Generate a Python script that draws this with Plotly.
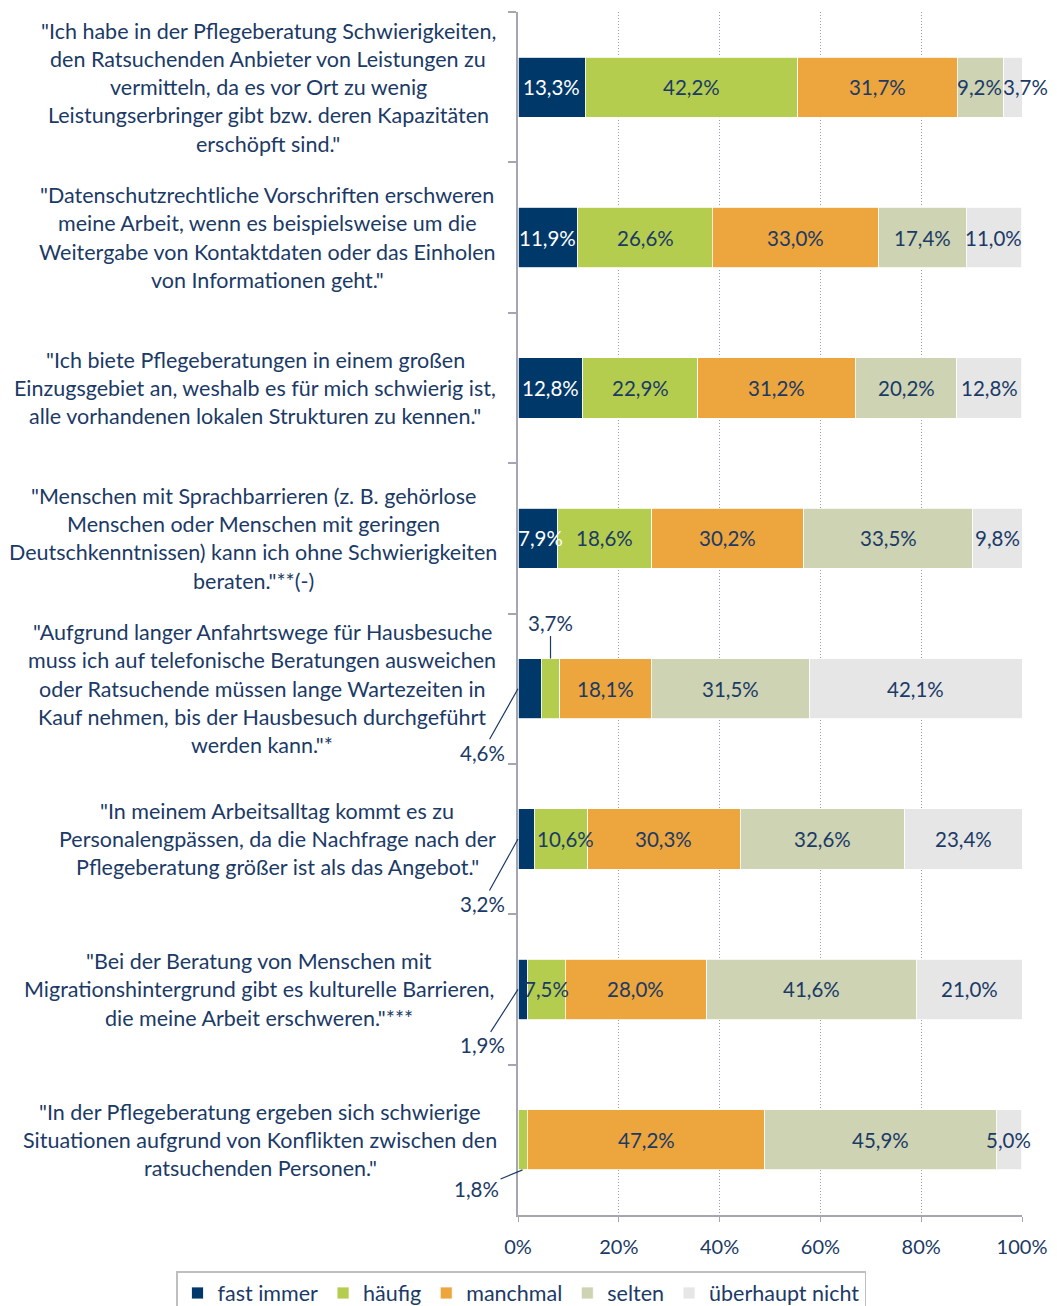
import plotly.graph_objects as go

# ---------------- data ----------------
statement_lines = [
    ['"Ich habe in der Pflegeberatung Schwierigkeiten,', 'den Ratsuchenden Anbieter von Leistungen zu',
     'vermitteln, da es vor Ort zu wenig', 'Leistungserbringer gibt bzw. deren Kapazitäten', 'erschöpft sind."'],
    ['"Datenschutzrechtliche Vorschriften erschweren', 'meine Arbeit, wenn es beispielsweise um die',
     'Weitergabe von Kontaktdaten oder das Einholen', 'von Informationen geht."'],
    ['"Ich biete Pflegeberatungen in einem großen', 'Einzugsgebiet an, weshalb es für mich schwierig ist,',
     'alle vorhandenen lokalen Strukturen zu kennen."'],
    ['"Menschen mit Sprachbarrieren (z. B. gehörlose', 'Menschen oder Menschen mit geringen',
     'Deutschkenntnissen) kann ich ohne Schwierigkeiten', 'beraten."**(-)'],
    ['"Aufgrund langer Anfahrtswege für Hausbesuche', 'muss ich auf telefonische Beratungen ausweichen',
     'oder Ratsuchende müssen lange Wartezeiten in', 'Kauf nehmen, bis der Hausbesuch durchgeführt',
     'werden kann."*'],
    ['"In meinem Arbeitsalltag kommt es zu', 'Personalengpässen, da die Nachfrage nach der',
     'Pflegeberatung größer ist als das Angebot."'],
    ['"Bei der Beratung von Menschen mit', 'Migrationshintergrund gibt es kulturelle Barrieren,',
     'die meine Arbeit erschweren."***'],
    ['"In der Pflegeberatung ergeben sich schwierige', 'Situationen aufgrund von Konflikten zwischen den',
     'ratsuchenden Personen."'],
]
categories = [" ".join(l) for l in statement_lines]

series_names = ["fast immer", "häufig", "manchmal", "selten", "überhaupt nicht"]
fast_immer = [13.3, 11.9, 12.8, 7.9, 4.6, 3.2, 1.9, 0.0]
haeufig = [42.2, 26.6, 22.9, 18.6, 3.7, 10.6, 7.5, 1.8]
manchmal = [31.7, 33.0, 31.2, 30.2, 18.1, 30.3, 28.0, 47.2]
selten = [9.2, 17.4, 20.2, 33.5, 31.5, 32.6, 41.6, 45.9]
ueberhaupt_nicht = [3.7, 11.0, 12.8, 9.8, 42.1, 23.4, 21.0, 5.0]
series_values = [fast_immer, haeufig, manchmal, selten, ueberhaupt_nicht]

x_ticks = [0, 20, 40, 60, 80, 100]
x_tick_labels = ["0%", "20%", "40%", "60%", "80%", "100%"]

# ---------------- styles / layout ----------------
colors = ["#00386A", "#B4CD4E", "#EDA53D", "#CDD3B3", "#E6E6E6"]
label_colors = ["white", "#1B3A66", "#1B3A66", "#1B3A66", "#1B3A66"]
TXT = "#1B3A66"
AX = "#A6A6B0"
FONT = "Lato"
FS_TEXT = 21.5
FS_VAL = 20.5
FS_TICK = 20
FS_LEG = 21.5

OFF = 8  # page body margin of the browser
W, H = 1057 - OFF, 1306 - OFF
ML = 518 - OFF
MT = 12 - OFF
MR = W - (1022 - OFF)
MB = H - (1215 - OFF)
PW = W - ML - MR
PH = H - MT - MB

# centre x (reference pixels) of each statement block, and vertical line step
block_center_px = [268, 267, 255, 253, 262, 277, 259, 260]
LINE_STEP = 28.3

# callouts: (row, series) -> (tip position in segment, tip y offset, ax, ay)
callouts = {
    (4, 0): ("start", 0.0, -36, 64),
    (4, 1): ("mid", -0.2, 0, -36),
    (5, 0): ("start", 0.0, -36, 65),
    (6, 0): ("start", 0.0, -36, 56),
    (7, 1): ("mid", 0.2, -46, 19),
}
label_xshift = {(0, 4): 12, (0, 3): -1, (3, 0): 3, (5, 1): 5}

legend_left_px = 176
legend_top_px = 1271


def fmt(v):
    return f"{v:.1f}".replace(".", ",") + "%"


fig = go.Figure()
for k, name in enumerate(series_names):
    fig.add_trace(go.Bar(
        y=categories, x=series_values[k], orientation="h", name=name,
        marker=dict(color=colors[k], line=dict(color="white", width=0.8)),
        width=0.4, hoverinfo="x+name",
    ))

annotations = []
# statement labels
for i, lines in enumerate(statement_lines):
    n = len(lines)
    cx = (block_center_px[i] - 518) / PW
    for j, line in enumerate(lines):
        annotations.append(dict(
            x=cx, xref="paper", y=i, yref="y", text=line, showarrow=False,
            xanchor="center", yanchor="middle", yshift=-(j - (n - 1) / 2) * LINE_STEP,
            font=dict(family=FONT, size=FS_TEXT, color=TXT),
        ))

# value labels
for i in range(len(categories)):
    start = 0.0
    for k in range(len(series_names)):
        v = series_values[k][i]
        if v > 0:
            mid = start + v / 2
            if (i, k) in callouts:
                pos, dy, ax, ay = callouts[(i, k)]
                annotations.append(dict(
                    x=start if pos == "start" else mid, y=i + dy, xref="x", yref="y",
                    text=fmt(v), showarrow=True, arrowhead=0, arrowwidth=1.2,
                    arrowcolor=TXT, ax=ax, ay=ay, standoff=0,
                    font=dict(family=FONT, size=FS_VAL, color=TXT),
                ))
            else:
                annotations.append(dict(
                    x=mid, y=i, xref="x", yref="y", text=fmt(v), showarrow=False,
                    xshift=label_xshift.get((i, k), 0),
                    font=dict(family=FONT, size=FS_VAL, color=label_colors[k]),
                ))
        start += v

fig.update_layout(
    barmode="stack",
    width=W, height=H,
    margin=dict(l=ML, r=MR, t=MT, b=MB, pad=0, autoexpand=False),
    plot_bgcolor="white", paper_bgcolor="white",
    font=dict(family=FONT, size=FS_TEXT, color=TXT),
    annotations=annotations,
    showlegend=True,
    legend=dict(
        orientation="h", x=(legend_left_px - 518) / PW, xanchor="left",
        y=-(legend_top_px - 1215) / PH, yanchor="top",
        bordercolor="#BFBFBF", borderwidth=1.5,
        font=dict(family=FONT, size=FS_LEG, color=TXT),
        traceorder="normal", itemwidth=30,
    ),
    xaxis=dict(
        range=[0, 100], tickvals=x_ticks, ticktext=x_tick_labels,
        showgrid=True, gridcolor="#9A9AA8", griddash="1px,2px", gridwidth=1,
        zeroline=False, showline=True, linecolor=AX, linewidth=1.5,
        ticks="outside", ticklen=5, tickcolor=AX,
        tickfont=dict(family=FONT, size=FS_TICK, color=TXT),
        ticklabelstandoff=8, fixedrange=True,
    ),
    yaxis=dict(
        autorange="reversed", showticklabels=False, ticks="outside",
        tickson="boundaries", ticklen=8, tickcolor=AX, tickwidth=1.5,
        showline=True, linecolor=AX, linewidth=1.5,
        showgrid=False, zeroline=False, fixedrange=True,
    ),
)

fig.write_html("out.html")
